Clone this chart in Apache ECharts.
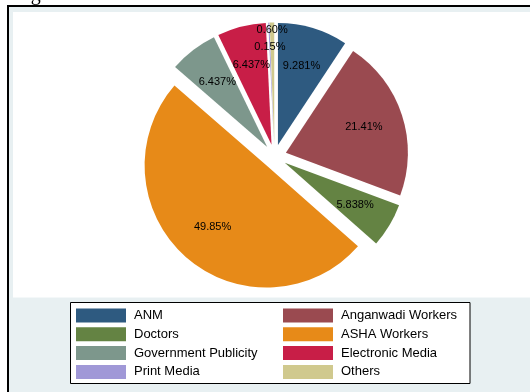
<!DOCTYPE html>
<html>
<head>
<meta charset="utf-8">
<script src="https://cdn.jsdelivr.net/npm/echarts@6/dist/echarts.min.js"></script>
<style>
  html, body { margin: 0; padding: 0; background: #ffffff; }
  #chart { width: 530px; height: 392px; }
</style>
</head>
<body>
<div id="chart"></div>
<script>
// Sources of information (percent of respondents)
const categories = ['ANM', 'Anganwadi Workers', 'Doctors', 'ASHA Workers',
                    'Government Publicity', 'Electronic Media', 'Print Media', 'Others'];
const shares = [9.281, 21.41, 5.838, 49.85, 6.437, 6.437, 0.15, 0.60];
const colors = ['#2e5a80', '#9a4a50', '#648343', '#e78a18',
                '#7d978c', '#c81e47', '#a098d7', '#d0c98e'];
const legendLeftCol = ['ANM', 'Doctors', 'Government Publicity', 'Print Media'];
const legendRightCol = ['Anganwadi Workers', 'ASHA Workers', 'Electronic Media', 'Others'];

const FONT = '"Liberation Sans", Arial, Helvetica, sans-serif';
const CENTER = [274.5, 156.5];
const RADIUS = 122;
const EXPLODE = 12;

function fmtPct(v) {
  return (v < 1 ? v.toFixed(2) : v.toPrecision(4)) + '%';
}

const colorOf = {};
categories.forEach((c, i) => { colorOf[c] = colors[i]; });

// Coloured wedges, every one pulled out from the centre
const sliceData = categories.map((c, i) => ({
  name: c, value: shares[i], selected: true,
  itemStyle: { color: colors[i] }
}));

// Transparent copies that only carry the percentage labels at a set radius
function labelSeries(radius, show) {
  return {
    type: 'pie',
    center: CENTER,
    radius: radius,
    startAngle: 90,
    clockwise: true,
    selectedMode: 'multiple',
    selectedOffset: EXPLODE,
    silent: true,
    animation: false,
    legendHoverLink: false,
    z: 3,
    itemStyle: { color: 'rgba(0,0,0,0)', borderWidth: 0 },
    select: { itemStyle: { color: 'rgba(0,0,0,0)', borderWidth: 0 } },
    emphasis: { disabled: true },
    labelLine: { show: false },
    data: categories.map((c, i) => ({
      name: c, value: shares[i], selected: true,
      label: { show: show(i) }
    })),
    label: {
      position: 'inside',
      formatter: p => fmtPct(p.value),
      color: '#000',
      fontFamily: FONT,
      fontSize: 11
    }
  };
}

function legendData(names) {
  return names.map(n => ({ name: n, itemStyle: { color: colorOf[n] } }));
}

const legendCommon = {
  orient: 'vertical',
  icon: 'rect',
  itemWidth: 50,
  itemHeight: 14,
  itemGap: 4.8,
  padding: 0,
  top: 308.5,
  selectedMode: false,
  textStyle: {
    fontFamily: FONT, fontSize: 13, color: '#000',
    lineHeight: 14, padding: [0, 0, 0, 3]
  }
};

const chart = echarts.init(document.getElementById('chart'), null, { renderer: 'canvas' });
chart.setOption({
  animation: false,
  backgroundColor: '#ffffff',
  graphic: [
    { type: 'rect', z: -10, shape: { x: 7, y: 5, width: 523, height: 387 }, style: { fill: '#000000' }, silent: true },
    { type: 'rect', z: -9, shape: { x: 9, y: 7, width: 521, height: 385 }, style: { fill: '#e8f0f2' }, silent: true },
    { type: 'rect', z: -8, shape: { x: 13, y: 12, width: 517, height: 285.5 }, style: { fill: '#ffffff' }, silent: true },
    { type: 'rect', z: -7, shape: { x: 70.5, y: 302.5, width: 399.5, height: 81 },
      style: { fill: '#ffffff', stroke: '#000000', lineWidth: 1 }, silent: true },
    { type: 'text', z: -6, x: 14, y: 5,
      style: { text: 'Figure 3: Source of information about the scheme', fill: '#000',
               font: '20px "Liberation Serif", "Times New Roman", serif',
               verticalAlign: 'bottom', align: 'left' }, silent: true }
  ],
  legend: [
    Object.assign({}, legendCommon, { left: 76, data: legendData(legendLeftCol) }),
    Object.assign({}, legendCommon, { left: 283, data: legendData(legendRightCol) })
  ],
  series: [
    {
      type: 'pie',
      center: CENTER,
      radius: [0, RADIUS],
      startAngle: 90,
      clockwise: true,
      selectedMode: 'multiple',
      selectedOffset: EXPLODE,
      animation: false,
      z: 2,
      itemStyle: { borderWidth: 0 },
      select: { itemStyle: { borderWidth: 0 } },
      emphasis: { disabled: true },
      label: { show: false },
      labelLine: { show: false },
      data: sliceData
    },
    labelSeries([36, 122], i => i < 6),
    labelSeries([65, 124], i => i === 6),
    labelSeries([99, 124], i => i === 7)
  ]
});
</script>
</body>
</html>
